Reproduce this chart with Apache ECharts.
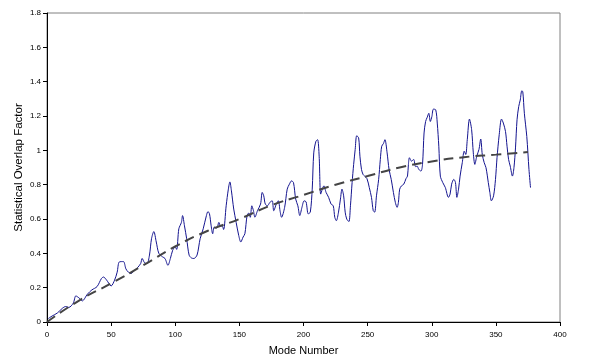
<!DOCTYPE html>
<html>
<head>
<meta charset="utf-8">
<script src="https://cdn.jsdelivr.net/npm/echarts@6/dist/echarts.min.js"></script>
<style>
  html, body { margin: 0; padding: 0; background: #fff; }
  #chart { width: 604px; height: 361px; }
</style>
</head>
<body>
<div id="chart"></div>
<script>
// mode number / overlap factor
let modeNumber = [1, 4, 8, 12, 14.5, 17, 20.5, 22.5, 25, 27.5, 31.5, 35, 39, 42.5, 44, 46.5, 50, 52.7, 54.7, 56.4,
  59.6, 61.5, 63.5, 65.7, 68, 70.5, 73, 74.2, 76, 78, 79.9, 81.5, 83.3, 85.2, 87.2, 90, 92, 94.3, 96.2, 98,
  99.9, 101.1, 102.8, 104.8, 105.7, 107.2, 108.9, 110.8, 112.6, 114.5, 117, 119.4, 121.8, 124.3, 125.5, 126.7, 128, 129.2, 130.4, 132.4,
  134, 135.3, 136.5, 137.7, 139.7, 141.4, 142.6, 143.8, 145.6, 147.5, 149.5, 151.1, 152.9, 154.3, 156, 157.3, 158.5, 159.7, 161, 162.1,
  164.1, 166.5, 167.8, 169, 170.2, 171.9, 173.8, 175.6, 176.8, 178.8, 180.4, 181.7, 182.9, 185.3, 187.3, 189, 190.7, 192.2, 193.9, 195.6,
  197.1, 198.8, 200.5, 202, 203.7, 205.3, 206.8, 208, 209.7, 211, 212.2, 213.4, 214.7, 215.9, 217.6, 219.6, 221.5, 223.2, 224.4, 225.6,
  227.3, 228.8, 230, 231.3, 232.5, 233.7, 235.4, 236.6, 237.9, 239.1, 240.3, 241.5, 243, 244, 245.2, 246.4, 247.6, 249.5, 251.3, 253,
  254.4, 255.5, 256.9, 258.6, 259.9, 261, 262.3, 263.5, 265.2, 266.7, 268.4, 270.1, 271.6, 273, 274, 275, 276.4, 278.2, 279.9, 281.1,
  281.8, 282.6, 284.2, 285.9, 287.4, 288.6, 289.9, 291.6, 292.8, 294, 295.2, 296.5, 297.7, 298.9, 300.1, 301.3, 303.1, 304.3, 305.5, 306.7,
  308.6, 310.6, 313, 314.3, 315.5, 317.2, 318.5, 319.6, 320.9, 322.1, 323.8, 325.3, 326.5, 327.7, 329.4, 331.1, 332.4, 333.6, 335.1, 336.8,
  338.2, 339.4, 340.9, 342.3, 344.1, 345.3, 346.5, 348.2, 349.7, 350.9, 352.6, 354.4, 355.8, 357.5, 358.7, 359.9, 361.2, 362.9, 364.1, 365.3,
  366.5, 367.8, 369, 370.2, 371, 372.2, 374.1, 375.8, 377];
let overlap = [0.02, 0.035, 0.052, 0.08, 0.09, 0.085, 0.11, 0.152, 0.14, 0.123, 0.162, 0.187, 0.206, 0.254, 0.262, 0.244, 0.21, 0.244, 0.29, 0.35,
  0.352, 0.31, 0.29, 0.283, 0.3, 0.316, 0.34, 0.37, 0.346, 0.34, 0.39, 0.485, 0.527, 0.466, 0.4, 0.38, 0.37, 0.33, 0.37, 0.418,
  0.437, 0.423, 0.543, 0.58, 0.62, 0.56, 0.485, 0.39, 0.373, 0.37, 0.39, 0.485, 0.543, 0.62, 0.643, 0.63, 0.56, 0.514, 0.553, 0.547,
  0.58, 0.558, 0.56, 0.539, 0.677, 0.774, 0.816, 0.764, 0.658, 0.58, 0.504, 0.466, 0.495, 0.514, 0.62, 0.635, 0.61, 0.677, 0.648, 0.61,
  0.648, 0.687, 0.755, 0.735, 0.687, 0.677, 0.697, 0.706, 0.648, 0.687, 0.706, 0.648, 0.61, 0.668, 0.774, 0.803, 0.822, 0.812, 0.716, 0.677,
  0.62, 0.668, 0.706, 0.7, 0.63, 0.64, 0.774, 0.985, 1.053, 1.062, 0.966, 0.745, 0.774, 0.793, 0.755, 0.726, 0.687, 0.677, 0.61, 0.59,
  0.64, 0.716, 0.774, 0.735, 0.64, 0.6, 0.585, 0.677, 0.812, 0.918, 1.005, 1.085, 1.072, 0.966, 0.889, 0.86, 0.85, 0.835, 0.783, 0.726,
  0.648, 0.64, 0.735, 0.831, 0.947, 1.024, 1.039, 1.062, 0.985, 0.889, 0.831, 0.755, 0.697, 0.668, 0.697, 0.774, 0.793, 0.803, 0.835, 0.85,
  0.918, 0.957, 0.937, 0.947, 0.905, 0.908, 0.889, 0.879, 0.918, 1.101, 1.168, 1.193, 1.216, 1.168, 1.197, 1.24, 1.236, 1.159, 1.024, 0.85,
  0.812, 0.783, 0.726, 0.745, 0.803, 0.831, 0.812, 0.726, 0.774, 0.85, 0.928, 0.995, 0.976, 1.062, 1.182, 1.12, 0.985, 0.918, 0.966, 1.005,
  1.066, 0.976, 0.928, 0.899, 0.812, 0.755, 0.706, 0.735, 0.831, 0.957, 1.091, 1.182, 1.159, 1.11, 1.024, 0.947, 0.908, 0.85, 0.899, 1.014,
  1.178, 1.255, 1.293, 1.347, 1.341, 1.216, 1.081, 0.889, 0.783];

// fitted trend (dashed)
let trendX = [0, 25, 50, 75, 100, 125, 150, 175, 200, 225, 250, 275, 300, 325, 350, 375];
let trendY = [0, 0.125, 0.225, 0.33, 0.44, 0.53, 0.6, 0.68, 0.74, 0.8, 0.85, 0.9, 0.935, 0.96, 0.975, 0.99];

let chart = echarts.init(document.getElementById('chart'), null, { renderer: 'canvas' });
let font = 'Liberation Sans, Arial, sans-serif';

chart.setOption({
  animation: false,
  grid: {
    left: 47, right: 44, top: 13, bottom: 37,
    show: true, borderColor: '#808080', borderWidth: 1
  },
  xAxis: {
    type: 'value', min: 0, max: 400, interval: 50,
    name: 'Mode Number', nameLocation: 'middle', nameGap: 23,
    nameMoveOverlap: false,
    nameTextStyle: { fontFamily: font, fontSize: 11, color: '#000' },
    axisLine: { lineStyle: { color: '#000', width: 1 } },
    axisTick: { show: true, length: 4, lineStyle: { color: '#000' } },
    axisLabel: { fontFamily: font, fontSize: 8, color: '#000', margin: 9 },
    splitLine: { show: false }
  },
  yAxis: {
    type: 'value', min: 0, max: 1.8, interval: 0.2,
    name: 'Statistical Overlap Factor', nameLocation: 'middle', nameGap: 22,
    nameMoveOverlap: false,
    nameTextStyle: { fontFamily: font, fontSize: 11.5, color: '#000' },
    axisLine: { show: true, lineStyle: { color: '#000', width: 1 } },
    axisTick: { show: true, length: 4, lineStyle: { color: '#000' } },
    axisLabel: { fontFamily: font, fontSize: 8, color: '#000', margin: 6,
      formatter: v => String(Math.round(v * 10) / 10) },
    splitLine: { show: false }
  },
  series: [
    {
      type: 'line',
      data: modeNumber.map((x, i) => [x, overlap[i]]),
      showSymbol: false,
      smooth: 0.3,
      lineStyle: { color: '#14148f', width: 1 },
      z: 2
    },
    {
      type: 'line',
      data: trendX.map((x, i) => [x, trendY[i]]),
      showSymbol: false,
      smooth: true,
      lineStyle: { color: '#444', width: 2, type: [10, 6] },
      z: 3
    }
  ]
});
</script>
</body>
</html>
